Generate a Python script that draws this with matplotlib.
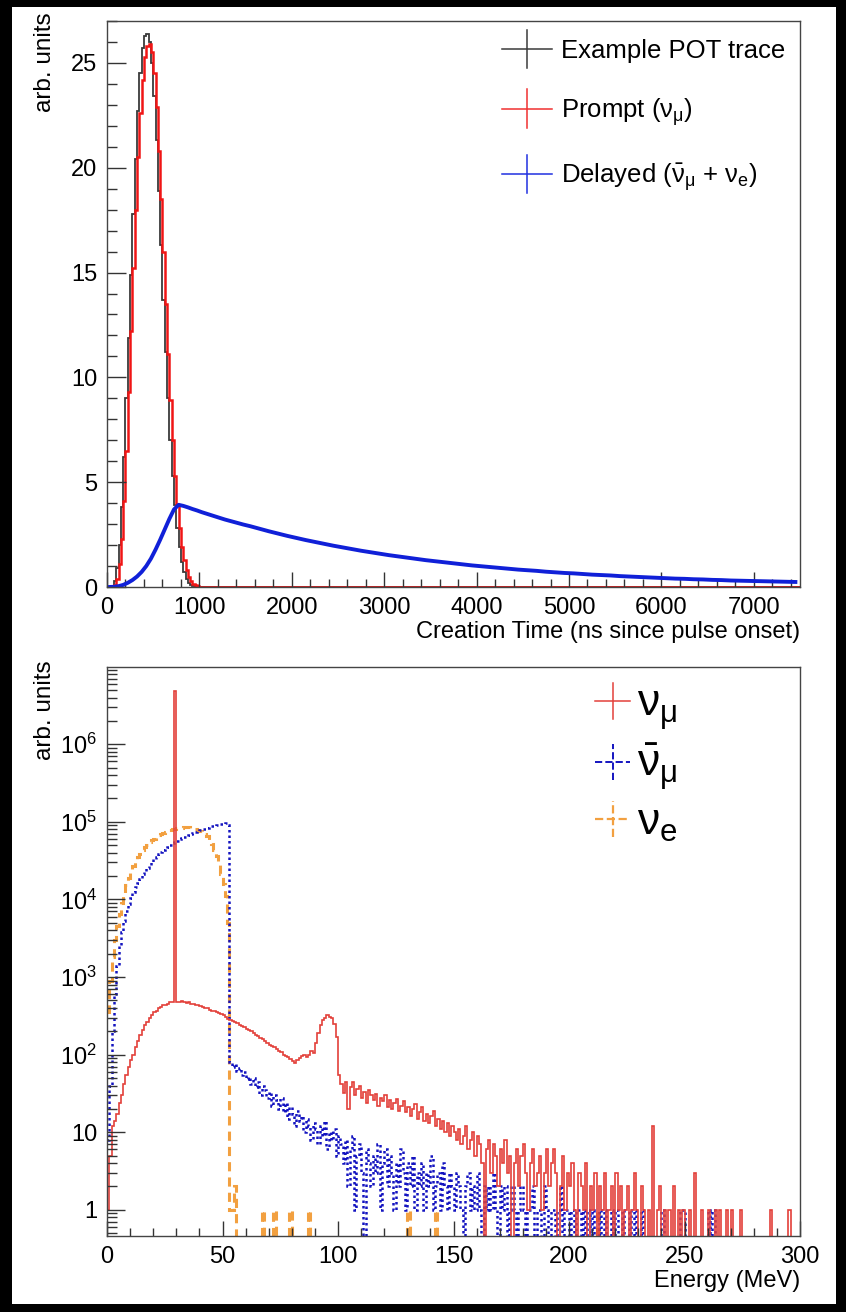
import numpy as np
import matplotlib
matplotlib.use("Agg")
import matplotlib.pyplot as plt
from matplotlib.lines import Line2D
from matplotlib.legend_handler import HandlerBase
from matplotlib.patches import Rectangle
from matplotlib.ticker import MultipleLocator, LogLocator, NullFormatter, FuncFormatter

plt.rcParams['font.family'] = ['Liberation Sans', 'DejaVu Sans']
plt.rcParams['mathtext.fontset'] = 'custom'
plt.rcParams['mathtext.rm'] = 'Liberation Sans'
plt.rcParams['mathtext.it'] = 'Liberation Sans:italic'
plt.rcParams['mathtext.bf'] = 'Liberation Sans:bold'

# ---- top panel: timing (ns) ----
# 25 ns bins from 0 to 1000 ns, then empty to 7500
fast_edges = np.append(np.arange(0, 1025, 25), 7500)
pot_trace = [0, 0, 0.05, 0.3, 0.9, 2.0, 3.8, 6.2, 9.0, 11.9,
             14.9, 17.8, 20.4, 22.7, 24.5, 25.7, 26.3, 26.4, 26.0, 25.0,
             23.4, 21.3, 18.9, 16.3, 13.7, 11.2, 9.0, 7.0, 5.3, 3.9,
             2.8, 1.9, 1.2, 0.7, 0.4, 0.2, 0.1, 0.05, 0, 0, 0]
prompt = [0, 0, 0, 0.1, 0.4, 1.1, 2.3, 4.1, 6.5, 9.3,
          12.2, 15.2, 18.0, 20.5, 22.6, 24.2, 25.3, 25.8, 25.9, 25.5,
          24.5, 22.9, 20.8, 18.5, 16.0, 13.5, 11.1, 8.9, 7.0, 5.3,
          3.9, 2.8, 1.9, 1.3, 0.8, 0.5, 0.3, 0.15, 0.08, 0.03, 0]

# delayed: 50 ns bins up to 1500, 100 ns bins up to 7500
delayed_edges = np.concatenate([np.arange(0, 1500, 50), np.arange(1500, 7600, 100)])
delayed = [0, 0.01, 0.04, 0.1, 0.2, 0.33, 0.5, 0.72, 1.0, 1.35,
           1.78, 2.25, 2.75, 3.25, 3.7, 3.92, 3.87, 3.80, 3.72, 3.65,
           3.57, 3.50, 3.43, 3.36, 3.29, 3.22, 3.16, 3.10, 3.04, 2.98,
           2.90, 2.78, 2.66, 2.55, 2.44, 2.34, 2.24, 2.15, 2.06, 1.97,
           1.89, 1.81, 1.73, 1.66, 1.59, 1.52, 1.46, 1.40, 1.34, 1.28,
           1.23, 1.18, 1.13, 1.08, 1.03, 0.99, 0.95, 0.91, 0.87, 0.83,
           0.80, 0.77, 0.73, 0.70, 0.67, 0.65, 0.62, 0.59, 0.57, 0.55,
           0.52, 0.50, 0.48, 0.46, 0.44, 0.42, 0.40, 0.39, 0.37, 0.36,
           0.34, 0.33, 0.31, 0.30, 0.29, 0.28, 0.27, 0.26, 0.25, 0.24]

# ---- bottom panel: energy spectra, 1 MeV bins ----
energy_edges = np.arange(0, 301, 1)
nu_mu = [1, 5, 12, 14, 17, 24, 30, 42, 55, 70,
         85, 100, 125, 150, 180, 210, 240, 265, 300, 320,
         350, 370, 395, 410, 430, 440, 455, 470, 475, 4800000,
         480, 470, 485, 470, 460, 475, 455, 450, 440, 430,
         420, 410, 400, 395, 380, 370, 360, 350, 345, 330,
         320, 310, 290, 280, 270, 265, 255, 240, 235, 225,
         215, 210, 200, 190, 180, 175, 165, 160, 150, 140,
         135, 128, 125, 118, 112, 108, 100, 95, 92, 88,
         82, 78, 85, 90, 95, 98, 92, 100, 110, 105,
         140, 190, 240, 280, 300, 320, 310, 300, 250, 170,
         55, 42, 32, 45, 20, 38, 44, 30, 36, 40,
         28, 33, 24, 35, 30, 26, 31, 22, 28, 25,
         30, 21, 26, 20, 24, 27, 19, 22, 25, 18,
         21, 16, 20, 23, 15, 18, 21, 14, 17, 13,
         16, 19, 12, 15, 11, 14, 10, 13, 9, 12,
         10, 8, 11, 7, 9, 12, 6, 8, 10, 5,
         9, 7, 4, 0, 6, 8, 3, 7, 5, 2,
         6, 4, 8, 3, 5, 0, 4, 6, 2, 5,
         7, 3, 1, 4, 6, 2, 3, 5, 1, 3,
         6, 2, 4, 6, 3, 0, 2, 5, 1, 3,
         2, 4, 1, 0, 3, 2, 1, 4, 0, 2,
         1, 3, 0, 2, 1, 3, 0, 1, 2, 0,
         3, 1, 2, 0, 1, 2, 0, 1, 3, 1,
         0, 2, 1, 0, 1, 0, 12, 0, 1, 2,
         0, 1, 0, 1, 0, 2, 0, 1, 0, 1,
         0, 0, 1, 0, 3, 0, 0, 1, 0, 0,
         1, 0, 0, 1, 0, 1, 0, 0, 1, 0,
         1, 0, 0, 0, 1, 0, 0, 0, 0, 0,
         0, 0, 0, 0, 0, 0, 0, 1, 0, 0,
         0, 0, 0, 0, 0, 1, 0, 0, 0, 0]
nu_mu_bar = [8, 40, 200, 600, 1400, 2500, 3800, 5300, 7000, 8800,
             10500, 12500, 14500, 16500, 18500, 21000, 23000, 25500, 28000, 30500,
             33000, 35500, 38000, 40500, 43000, 45500, 48000, 50500, 53000, 55000,
             57000, 59500, 62000, 64000, 66000, 68000, 70000, 72000, 74000, 76000,
             78000, 80000, 82000, 84000, 86000, 88000, 89500, 91000, 92500, 94000,
             95000, 96000, 90000, 80, 70, 75, 62, 68, 55, 60,
             48, 52, 42, 50, 38, 45, 30, 40, 35, 28,
             33, 22, 30, 26, 20, 28, 18, 24, 15, 21,
             17, 12, 19, 14, 16, 10, 15, 12, 8, 13,
             11, 7, 12, 9, 14, 6, 10, 8, 11, 5,
             9, 7, 4, 8, 2, 6, 9, 1, 5, 7,
             3, 0, 6, 4, 2, 5, 3, 7, 1, 4,
             6, 2, 5, 3, 1, 4, 2, 6, 3, 1,
             4, 2, 5, 1, 3, 2, 4, 1, 3, 2,
             5, 1, 2, 3, 1, 4, 2, 1, 3, 2,
             1, 3, 2, 1, 0, 2, 3, 1, 2, 1,
             3, 1, 0, 2, 1, 2, 1, 3, 1, 0,
             2, 1, 2, 0, 1, 2, 1, 0, 1, 2,
             1, 0, 1, 1, 2, 0, 1, 1, 0, 2,
             1, 0, 1, 1, 0, 1, 2, 0, 1, 1,
             0, 1, 0, 1, 1, 0, 1, 0, 1, 0,
             1, 0, 0, 1, 0, 1, 0, 0, 1, 0,
             1, 0, 0, 1, 0, 0, 1, 0, 1, 0,
             0, 1, 0, 0, 0, 0, 0, 0, 0, 0,
             1, 0, 0, 0, 0, 0, 0, 0, 1, 1,
             0, 0, 0, 0, 0, 0, 0, 0, 0, 0,
             1, 0, 1, 0, 0, 0, 0, 0, 0, 0,
             0, 0, 0, 0, 0, 0, 0, 0, 0, 0,
             0, 0, 0, 0, 0, 0, 0, 0, 0, 0,
             0, 0, 0, 0, 0, 0, 0, 0, 0, 0]
nu_e = [350, 900, 1800, 3000, 4500, 6500, 9000, 12000, 15500, 19000,
        23000, 27000, 31000, 35000, 39000, 43000, 47000, 51000, 55000, 58000,
        61000, 64000, 67000, 70000, 72500, 75000, 77000, 79000, 80500, 82000,
        83000, 84000, 84500, 85000, 85000, 85000, 84000, 83000, 81500, 79500,
        77000, 74000, 70000, 65000, 59000, 52000, 44000, 36000, 28000, 21000,
        16000, 11000, 5000, 1, 1, 2, 0, 0, 0, 0,
        0, 0, 0, 0, 0, 0, 0, 1, 0, 0,
        0, 0, 1, 0, 0, 0, 0, 0, 0, 1,
        0, 0, 0, 0, 0, 0, 0, 1, 0, 0] + [0] * 40 + [1] + [0] * 11 + [1] + [0] * 69 + [1] + [0] * 87

log_ticks = [1, 10, 1e2, 1e3, 1e4, 1e5, 1e6]


class CrossHandler(HandlerBase):
    # ROOT-style "+" legend glyph: horizontal line with vertical bar
    def __init__(self, half_height):
        super().__init__()
        self.half_height = half_height

    def create_artists(self, legend, orig_handle, xdescent, ydescent,
                       width, height, fontsize, trans):
        y = height / 2.0 - ydescent
        xc = width / 2.0 - xdescent
        kw = dict(color=orig_handle.get_color(), lw=orig_handle.get_linewidth(),
                  linestyle=orig_handle.get_linestyle(), transform=trans)
        h = Line2D([-xdescent, width - xdescent], [y, y], **kw)
        v = Line2D([xc, xc], [y - self.half_height, y + self.half_height], **kw)
        return [h, v]


W, H = 846, 1312
fig = plt.figure(figsize=(W / 100, H / 100), dpi=100, facecolor='black')
fig.patches.append(Rectangle((12 / W, 1 - 1304 / H), (836 - 12) / W, (1304 - 7) / H,
                             transform=fig.transFigure, facecolor='white',
                             edgecolor='none', zorder=-10))

x0, x1 = 107 / W, 800 / W
ax1 = fig.add_axes([x0, 1 - 587 / H, x1 - x0, (587 - 21) / H])
ax2 = fig.add_axes([x0, 1 - 1236 / H, x1 - x0, (1236 - 667) / H])

for ax in (ax1, ax2):
    for s in ax.spines.values():
        s.set_color('#444444')
        s.set_linewidth(1.0)
    ax.tick_params(which='both', direction='in', top=False, right=False,
                   labelsize=17, color='#333333', width=1.0, pad=7)

# top panel
ax1.stairs(pot_trace, fast_edges, color='#3a3a3a', lw=1.3, baseline=None)
ax1.stairs(prompt, fast_edges, color='#f01515', lw=1.8, baseline=None)
delayed_centers = 0.5 * (delayed_edges[:-1] + delayed_edges[1:])
ax1.plot(delayed_centers, delayed, color='#1020d8', lw=2.8)
ax1.set_xlim(0, 7500)
ax1.set_ylim(0, 27)
ax1.xaxis.set_major_locator(MultipleLocator(1000))
ax1.xaxis.set_minor_locator(MultipleLocator(200))
ax1.yaxis.set_major_locator(MultipleLocator(5))
ax1.yaxis.set_minor_locator(MultipleLocator(1))
ax1.tick_params(axis='x', which='major', length=11)
ax1.tick_params(axis='x', which='minor', length=6)
ax1.tick_params(axis='y', which='major', length=14)
ax1.tick_params(axis='y', which='minor', length=7)

h1 = [Line2D([], [], color='#3a3a3a', lw=1.1),
      Line2D([], [], color='#f03030', lw=1.1),
      Line2D([], [], color='#2030e0', lw=1.1)]
labels1 = ['Example POT trace', r'Prompt ($\mathrm{ν}_{\mathrm{μ}}$)',
           r'Delayed ($\bar{\mathrm{ν}}_{\mathrm{μ}}$ + $\mathrm{ν}_{\mathrm{e}}$)']
leg1 = ax1.legend(h1, labels1, loc='upper left', bbox_to_anchor=((484 - 107) / 693, 1.0),
                  frameon=False, fontsize=18.5, handlelength=1.95, handletextpad=0.35,
                  labelspacing=1.3, borderaxespad=0.3,
                  handler_map={Line2D: CrossHandler(14)})

fig.text(45 / W, 1 - 12 / H, 'arb. units', rotation=90, ha='center', va='top', fontsize=17.5)
fig.text(x1, 1 - 632 / H, 'Creation Time (ns since pulse onset)', ha='right', va='center',
         fontsize=17)

# bottom panel
def floor(v):
    v = np.asarray(v, dtype=float)
    return np.where(v > 0, v, 1e-2)

ax2.set_yscale('log')
ax2.stairs(floor(nu_e), energy_edges, color='#f2a040', lw=2.2, linestyle=(0, (3, 2)),
           baseline=None)
ax2.stairs(floor(nu_mu_bar), energy_edges, color='#1414c0', lw=1.8, linestyle=(0, (1, 1.2)),
           baseline=None)
ax2.stairs(floor(nu_mu), energy_edges, color='#e3403a', lw=1.2, baseline=None)
ax2.set_xlim(0, 300)
ax2.set_ylim(0.46, 9.9e6)
ax2.xaxis.set_major_locator(MultipleLocator(50))
ax2.xaxis.set_minor_locator(MultipleLocator(10))
ax2.set_yticks(log_ticks)
ax2.yaxis.set_minor_locator(LogLocator(base=10, subs=np.arange(2, 10), numticks=20))
ax2.yaxis.set_minor_formatter(NullFormatter())


def log_label(v, pos):
    n = int(round(np.log10(v)))
    if n == 0:
        return '1'
    if n == 1:
        return '10'
    return r'$10^{%d}$' % n


ax2.yaxis.set_major_formatter(FuncFormatter(log_label))
ax2.tick_params(axis='x', which='major', length=11)
ax2.tick_params(axis='x', which='minor', length=6)
ax2.tick_params(axis='y', which='major', length=13)
ax2.tick_params(axis='y', which='minor', length=7)

h2 = [Line2D([], [], color='#e3403a', lw=1.1),
      Line2D([], [], color='#1414c0', lw=1.4, linestyle=(0, (1, 1.2))),
      Line2D([], [], color='#f2a040', lw=1.6, linestyle=(0, (3, 2)))]
labels2 = [r'$\mathrm{ν}_{\mathrm{μ}}$', r'$\bar{\mathrm{ν}}_{\mathrm{μ}}$',
           r'$\mathrm{ν}_{\mathrm{e}}$']
leg2 = ax2.legend(h2, labels2, loc='upper left', bbox_to_anchor=((577 - 107) / 693, 1.0),
                  frameon=False, fontsize=32, handlelength=0.8, handletextpad=0.15,
                  labelspacing=0.2, borderaxespad=0.0,
                  handler_map={Line2D: CrossHandler(13)})

fig.text(45 / W, 1 - 660 / H, 'arb. units', rotation=90, ha='center', va='top', fontsize=17.5)
fig.text(x1, 1 - 1281 / H, 'Energy (MeV)', ha='right', va='center', fontsize=17)

fig.savefig('out.png', dpi=100, facecolor=fig.get_facecolor())
